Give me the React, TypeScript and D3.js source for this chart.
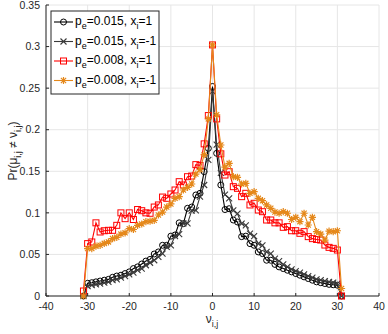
import React from "react";
import * as d3 from "d3";

const nu: number[] = d3.range(-31, 32);

const blackCircle: number[] = [
  0, 0.0153, 0.016, 0.017, 0.018, 0.019, 0.02, 0.0225, 0.024, 0.025, 0.027, 0.029, 0.033, 0.035, 0.0385, 0.042,
  0.044, 0.0505, 0.053, 0.061, 0.061, 0.072, 0.0734, 0.088, 0.087, 0.1055, 0.107, 0.1215, 0.1235, 0.1495, 0.1776,
  0.252,
  0.1716, 0.1335, 0.104, 0.105, 0.0914, 0.089, 0.0714, 0.072, 0.063, 0.061, 0.053, 0.051, 0.043, 0.043, 0.038,
  0.035, 0.033, 0.031, 0.029, 0.027, 0.025, 0.023, 0.021, 0.019, 0.017, 0.016, 0.015, 0.014, 0.0135, 0.013, 0,
];

const grayCross: number[] = [
  0, 0.012, 0.013, 0.014, 0.015, 0.016, 0.017, 0.019, 0.02, 0.022, 0.024, 0.026, 0.028, 0.031, 0.033, 0.037,
  0.04, 0.043, 0.047, 0.051, 0.059, 0.061, 0.072, 0.0745, 0.0874, 0.0874, 0.1026, 0.103, 0.1195, 0.1335, 0.1636,
  0.246,
  0.182, 0.148, 0.122, 0.1175, 0.103, 0.099, 0.087, 0.085, 0.075, 0.072, 0.063, 0.061, 0.053, 0.051, 0.045,
  0.042, 0.038, 0.035, 0.032, 0.03, 0.028, 0.026, 0.024, 0.022, 0.02, 0.019, 0.018, 0.017, 0.016, 0.015, 0,
];

const redSquare: number[] = [
  0.006, 0.063, 0.065, 0.088, 0.077, 0.0785, 0.079, 0.079, 0.085, 0.1, 0.093, 0.1, 0.092, 0.104, 0.1026, 0.1,
  0.0995, 0.107, 0.1095, 0.119, 0.1175, 0.1227, 0.1275, 0.1375, 0.1335, 0.1435, 0.1443, 0.158, 0.157, 0.183, 0.217,
  0.302,
  0.213, 0.171, 0.1455, 0.1495, 0.1315, 0.1295, 0.1195, 0.1235, 0.1095, 0.1115, 0.1034, 0.1014, 0.0914, 0.0914, 0.088,
  0.088, 0.0826, 0.0834, 0.0785, 0.0785, 0.0754, 0.0774, 0.0714, 0.069, 0.068, 0.0673, 0.0613, 0.0585, 0.0573, 0.0553, 0,
];

const orangeStar: number[] = [
  0, 0.057, 0.057, 0.06, 0.061, 0.0633, 0.065, 0.069, 0.0706, 0.0745, 0.076, 0.081, 0.08, 0.085, 0.0866, 0.0894,
  0.09, 0.091, 0.0974, 0.101, 0.107, 0.1107, 0.1175, 0.1195, 0.1275, 0.1307, 0.1347, 0.1467, 0.152, 0.17, 0.213,
  0.302,
  0.218, 0.1816, 0.155, 0.1596, 0.1435, 0.1427, 0.1347, 0.1355, 0.1235, 0.1255, 0.1175, 0.1146, 0.1095, 0.1055, 0.101,
  0.0995, 0.1014, 0.0995, 0.092, 0.0946, 0.0894, 0.0995, 0.0854, 0.0946, 0.0774, 0.0745, 0.0673, 0.078, 0.0774, 0.0785, 0.009,
];

const xTicks: number[] = [-40, -30, -20, -10, 0, 10, 20, 30, 40];
const yTicks: number[] = [0, 0.05, 0.1, 0.15, 0.2, 0.25, 0.3, 0.35];
const yTickLabels: string[] = ["0", "0.05", "0.1", "0.15", "0.2", "0.25", "0.3", "0.35"];

const legendPe: string[] = ["0.015", "0.015", "0.008", "0.008"];
const legendXi: string[] = ["1", "-1", "1", "-1"];

type MarkerKind = "circle" | "cross" | "square" | "star";
const seriesList: { values: number[]; color: string; marker: MarkerKind }[] = [
  { values: blackCircle, color: "#000000", marker: "circle" },
  { values: grayCross, color: "#3a3a3a", marker: "cross" },
  { values: redSquare, color: "#ff0000", marker: "square" },
  { values: orangeStar, color: "#e5881a", marker: "star" },
];

const W = 388;
const H = 334;
const FONT = "'Liberation Sans', Arial, Helvetica, sans-serif";
const AX = "#262626";

function Marker({ kind, x, y, color }: { kind: MarkerKind; x: number; y: number; color: string }) {
  if (kind === "circle") return <circle cx={x} cy={y} r={3} fill="none" stroke={color} strokeWidth={1} />;
  if (kind === "square")
    return <rect x={x - 3} y={y - 3} width={6} height={6} fill="none" stroke={color} strokeWidth={1} />;
  if (kind === "cross") {
    const s = 3;
    return (
      <path d={`M${x - s},${y - s}L${x + s},${y + s}M${x - s},${y + s}L${x + s},${y - s}`} stroke={color} strokeWidth={1.1} />
    );
  }
  const s = 3.6;
  const d2 = s * 0.72;
  return (
    <path
      d={`M${x - s},${y}L${x + s},${y}M${x},${y - s}L${x},${y + s}M${x - d2},${y - d2}L${x + d2},${y + d2}M${x - d2},${y + d2}L${x + d2},${y - d2}`}
      stroke={color}
      strokeWidth={1.2}
    />
  );
}

export default function App() {
  const x = d3.scaleLinear().domain([-40, 40]).range([46, 379]);
  const y = d3.scaleLinear().domain([0, 0.35]).range([296, 5]);
  const line = d3
    .line<[number, number]>()
    .x((d) => x(d[0]))
    .y((d) => y(d[1]));

  const legX = 51;
  const legY = 11;
  const legW = 108;
  const legH = 83;
  const rowYs = [22, 41.5, 61, 80.5];

  return (
    <svg width={W} height={H} style={{ position: "absolute", left: 0, top: 0, background: "#fff" }} fontFamily={FONT}>
      <rect x={0} y={0} width={W} height={H} fill="#fff" />
      {xTicks.map((t) => (
        <line key={"gx" + t} x1={x(t)} x2={x(t)} y1={y(0)} y2={y(0.35)} stroke="#e6e6e6" strokeWidth={1} />
      ))}
      {yTicks.map((t) => (
        <line key={"gy" + t} x1={x(-40)} x2={x(40)} y1={y(t)} y2={y(t)} stroke="#e6e6e6" strokeWidth={1} />
      ))}
      <line x1={x(-40)} x2={x(40)} y1={y(0)} y2={y(0)} stroke={AX} strokeWidth={1} />
      <line x1={x(-40)} x2={x(-40)} y1={y(0)} y2={y(0.35)} stroke={AX} strokeWidth={1} />
      {xTicks.map((t) => (
        <g key={"xt" + t}>
          <line x1={x(t)} x2={x(t)} y1={y(0)} y2={y(0) - 3} stroke={AX} />
          <text x={x(t)} y={310} textAnchor="middle" fontSize={10.5} fill={AX}>
            {t}
          </text>
        </g>
      ))}
      {yTicks.map((t, i) => (
        <g key={"yt" + t}>
          <line x1={x(-40)} x2={x(-40) + 3} y1={y(t)} y2={y(t)} stroke={AX} />
          <text x={40} y={y(t) + 3.7} textAnchor="end" fontSize={10.5} fill={AX}>
            {yTickLabels[i]}
          </text>
        </g>
      ))}
      {seriesList.map((s, si) => {
        const pts: [number, number][] = nu.map((n, i) => [n, s.values[i]]);
        return (
          <g key={"s" + si}>
            <path d={line(pts) || ""} fill="none" stroke={s.color} strokeWidth={1.1} />
            {pts.map((p, i) => (
              <Marker key={i} kind={s.marker} x={x(p[0])} y={y(p[1])} color={s.color} />
            ))}
          </g>
        );
      })}
      <text x={212} y={323} textAnchor="middle" fontSize={12} fill={AX}>
        <tspan>ν</tspan>
        <tspan dy={4} fontSize={9}>i,j</tspan>
      </text>
      <text transform={`translate(17,151) rotate(-90)`} textAnchor="middle" fontSize={12} fill={AX}>
        <tspan>Pr(</tspan>
        <tspan>μ</tspan>
        <tspan dy={3.5} fontSize={9}>i,j</tspan>
        <tspan dy={-3.5}> ≠ </tspan>
        <tspan>ν</tspan>
        <tspan dy={3.5} fontSize={9}>i,j</tspan>
        <tspan dy={-3.5}>)</tspan>
      </text>
      <rect x={legX} y={legY} width={legW} height={legH} fill="#fff" stroke={AX} strokeWidth={1} />
      {seriesList.map((s, i) => (
        <g key={"l" + i}>
          <line x1={54} x2={73} y1={rowYs[i]} y2={rowYs[i]} stroke={s.color} strokeWidth={1.1} />
          <Marker kind={s.marker} x={63.5} y={rowYs[i]} color={s.color} />
          <text x={75} y={rowYs[i] + 3} fontSize={12} fill="#000">
            <tspan>p</tspan>
            <tspan dy={4} fontSize={9}>e</tspan>
            <tspan dy={-4}>{"=" + legendPe[i] + ", x"}</tspan>
            <tspan dy={4} fontSize={9}>i</tspan>
            <tspan dy={-4}>{"=" + legendXi[i]}</tspan>
          </text>
        </g>
      ))}
    </svg>
  );
}
